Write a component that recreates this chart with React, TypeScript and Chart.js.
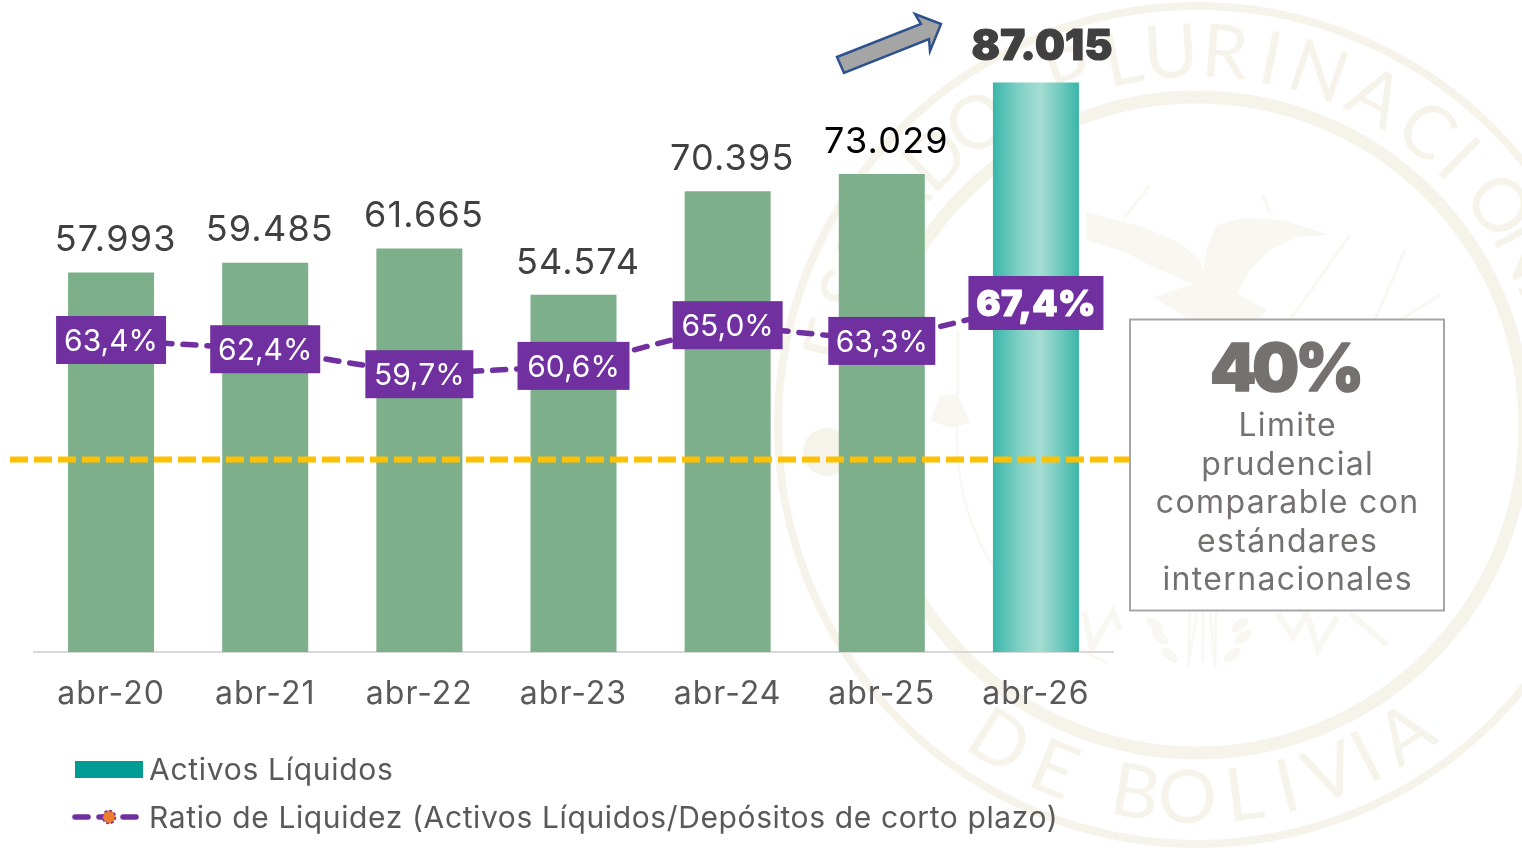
import React, { useEffect, useRef } from "react";
import { Chart, registerables } from "chart.js";

Chart.register(...registerables);

const categories = ["abr-20", "abr-21", "abr-22", "abr-23", "abr-24", "abr-25", "abr-26"];
const activosLiquidos = [57993, 59485, 61665, 54574, 70395, 73029, 87015];
const ratioLiquidez = [63.4, 62.4, 59.7, 60.6, 65.0, 63.3, 67.4];
const pillWidths = [110, 110, 108, 112, 110, 107, 135];
const limitePrudencial = "40%";
const limiteTexto = ["Limite", "prudencial", "comparable con", "estándares", "internacionales"];
const serieBarras = "Activos Líquidos";
const serieLinea = "Ratio de Liquidez (Activos Líquidos/Depósitos de corto plazo)";
const limiteLineaNivel = 29400;

const FONT = "Inter, 'Open Sans', sans-serif";
const GREY = "#595959";
const PURPLE = "#7030A0";
const SEAL = "#f6f3ea";
const SEAL_SOFT = "#f9f7f1";

const fmtMiles = (v: number) => String(v).replace(/\B(?=(\d{3})+$)/g, ".");
const fmtPct = (v: number) => v.toFixed(1).replace(".", ",") + "%";

function text(c: any, s: string, x: number, y: number, font: string, color: string, spacing = 0, heavy = 0) {
  c.save();
  c.font = font;
  c.fillStyle = color;
  c.textAlign = "center";
  c.textBaseline = "middle";
  c.letterSpacing = spacing + "px";
  if (heavy) {
    c.strokeStyle = color;
    c.lineWidth = heavy;
    c.lineJoin = "round";
    c.strokeText(s, x + spacing / 2, y);
  }
  c.fillText(s, x + spacing / 2, y);
  c.restore();
}

function textLeft(c: any, s: string, x: number, y: number, font: string, color: string, spacing = 0) {
  c.save();
  c.font = font;
  c.fillStyle = color;
  c.textAlign = "left";
  c.textBaseline = "middle";
  c.letterSpacing = spacing + "px";
  c.fillText(s, x, y);
  c.restore();
}

function poly(c: any, pts: number[][]) {
  c.beginPath();
  pts.forEach((p, i) => (i ? c.lineTo(p[0], p[1]) : c.moveTo(p[0], p[1])));
  c.closePath();
}

function polyline(c: any, pts: number[][]) {
  c.beginPath();
  pts.forEach((p, i) => (i ? c.lineTo(p[0], p[1]) : c.moveTo(p[0], p[1])));
  c.stroke();
}

function drawSeal(c: any) {
  const cx = 1197, cy = 425;
  c.save();
  c.strokeStyle = SEAL;
  c.lineWidth = 8;
  c.beginPath();
  c.arc(cx, cy, 419, 0, Math.PI * 2);
  c.stroke();
  c.lineWidth = 13;
  c.beginPath();
  c.arc(cx, cy, 328, 0, Math.PI * 2);
  c.stroke();
  const letter = (ch: string, deg: number, bottom: boolean) => {
    const a = (deg * Math.PI) / 180;
    c.save();
    if (bottom) {
      c.translate(cx + Math.sin(a) * 374, cy + Math.cos(a) * 374);
      c.rotate(-a);
    } else {
      c.translate(cx + Math.sin(a) * 372, cy - Math.cos(a) * 372);
      c.rotate(a);
    }
    c.font = "400 74px Lato, sans-serif";
    c.fillStyle = SEAL;
    c.textAlign = "center";
    c.textBaseline = "middle";
    c.fillText(ch, 0, 0);
    c.restore();
  };
  const top: [string, number][] = [["E", -77], ["S", -69], ["T", -61], ["A", -53], ["D", -44.5], ["O", -36], ["P", -20], ["L", -11.5], ["U", -4], ["R", 4.3], ["I", 11.4], ["N", 19], ["A", 28.6], ["C", 38], ["I", 44.5], ["O", 54], ["N", 62], ["A", 71], ["L", 79]];
  top.forEach(([ch, d]) => letter(ch, d, false));
  const bot: [string, number][] = [["D", -32], ["E", -22.5], ["B", -9.5], ["O", -1.5], ["L", 7.3], ["I", 14], ["V", 21], ["I", 27], ["A", 34]];
  bot.forEach(([ch, d]) => letter(ch, d, true));

  // escudo: sol, cóndor y armas
  c.fillStyle = SEAL;
  c.beginPath();
  c.arc(827, 452, 24, 0, Math.PI * 2);
  c.fill();
  c.fillStyle = SEAL_SOFT;
  c.strokeStyle = SEAL_SOFT;
  poly(c, [[1207, 247], [1217, 225], [1243, 218], [1283, 220], [1330, 235], [1297, 237], [1270, 250], [1250, 270], [1237, 293], [1267, 310], [1257, 320], [1190, 320], [1153, 297], [1190, 285], [1203, 270]]);
  c.fill();
  poly(c, [[1086, 212], [1143, 227], [1180, 243], [1200, 260], [1203, 270], [1190, 283], [1153, 267], [1127, 253], [1086, 240]]);
  c.fill();
  poly(c, [[940, 395], [958, 395], [970, 423], [950, 428], [930, 420]]);
  c.fill();
  c.lineWidth = 3;
  [[1150, 185, 1124, 218], [1350, 235, 1290, 320], [1405, 250, 1375, 320], [1440, 295, 1400, 320], [1262, 195, 1270, 212], [958, 330, 958, 395]].forEach((l) => polyline(c, [[l[0], l[1]], [l[2], l[3]]]));
  // círculo interior tenue
  c.lineWidth = 2;
  c.beginPath();
  c.arc(1197, 440, 240, Math.PI * 0.62, Math.PI * 1.05);
  c.stroke();
  // banderas y laureles inferiores
  c.lineWidth = 6;
  polyline(c, [[1084, 612], [1092, 648], [1113, 612], [1120, 630]]);
  polyline(c, [[1277, 613], [1293, 637], [1307, 613], [1318, 650], [1337, 617]]);
  polyline(c, [[1350, 613], [1387, 645]]);
  c.lineWidth = 2.5;
  [[1190, 612, 1188, 668], [1203, 612, 1203, 662], [1216, 612, 1215, 668], [1197, 612, 1188, 668], [1210, 612, 1215, 668]].forEach((l) => polyline(c, [[l[0], l[1]], [l[2], l[3]]]));
  [[1155, 625], [1160, 637], [1170, 655], [1240, 625], [1243, 637], [1232, 655]].forEach((p) => {
    c.beginPath();
    c.ellipse(p[0], p[1], 10, 5, p[0] < 1200 ? 0.7 : -0.7, 0, Math.PI * 2);
    c.fill();
  });
  c.restore();
}

const overlay = {
  id: "overlay",
  beforeDraw(chart: any) {
    const c = chart.ctx;
    c.save();
    c.fillStyle = "#ffffff";
    c.fillRect(0, 0, chart.width, chart.height);
    drawSeal(c);
    c.restore();
    c.letterSpacing = "1px";
  },
  afterDraw(chart: any) {
    const c = chart.ctx;
    c.letterSpacing = "0px";
    const { x, y, y1 } = chart.scales;
    const area = chart.chartArea;

    // línea de límite
    c.save();
    c.strokeStyle = "#FFC000";
    c.lineWidth = 6;
    c.setLineDash([18, 6]);
    c.beginPath();
    const ly = y.getPixelForValue(limiteLineaNivel);
    c.moveTo(area.left - 24, ly);
    c.lineTo(1130, ly);
    c.stroke();
    c.restore();

    // caja del límite
    c.save();
    c.fillStyle = "#ffffff";
    c.strokeStyle = "#A6A6A6";
    c.lineWidth = 2;
    c.fillRect(1130, 319.5, 314, 291);
    c.strokeRect(1130, 319.5, 314, 291);
    c.restore();
    text(c, limitePrudencial, 1287, 371, "900 66px " + FONT, "#767171", -4, 1.5);
    limiteTexto.forEach((t, i) => {
      text(c, t, 1287, 426.5 + i * 38.5, "400 32px " + FONT, "#767171", 1.35);
    });

    // etiquetas de barras
    activosLiquidos.forEach((v, i) => {
      const px = x.getPixelForValue(i);
      const top = y.getPixelForValue(v);
      if (i === activosLiquidos.length - 1) {
        text(c, fmtMiles(v), px + 6, top - 35, "900 42px " + FONT, "#404040", 0.3, 1.2);
      } else {
        text(c, fmtMiles(v), px + 4, top - 32, "400 36px " + FONT, i === 5 ? "#000000" : "#404040", 1.2);
      }
    });

    // etiquetas de la razón
    ratioLiquidez.forEach((v, i) => {
      const px = x.getPixelForValue(i);
      const py = y1.getPixelForValue(v);
      const last = i === ratioLiquidez.length - 1;
      const w = pillWidths[i];
      const h = last ? 54 : 48;
      c.fillStyle = PURPLE;
      c.fillRect(px - w / 2, py - h / 2, w, h);
      if (last) text(c, fmtPct(v), px, py + 2, "900 36px " + FONT, "#ffffff", 0.5, 1);
      else text(c, fmtPct(v), px, py + 2, "400 30px " + FONT, "#ffffff");
    });

    // flecha
    c.save();
    c.fillStyle = "#A5A5A5";
    c.strokeStyle = "#2F528F";
    c.lineWidth = 2.5;
    c.lineJoin = "miter";
    poly(c, [[837, 57], [921, 24], [915, 14], [941, 24], [930, 51], [929, 39], [844, 73]]);
    c.fill();
    c.stroke();
    c.restore();

    // leyenda
    c.fillStyle = "#009B92";
    c.fillRect(75, 761, 68, 17);
    textLeft(c, serieBarras, 149, 770.5, "400 30px " + FONT, GREY, 0.7);
    c.save();
    c.strokeStyle = PURPLE;
    c.lineWidth = 5.5;
    c.lineCap = "round";
    [[75, 88], [99, 103], [123, 136]].forEach((s) => {
      c.beginPath();
      c.moveTo(s[0], 817);
      c.lineTo(s[1], 817);
      c.stroke();
    });
    c.fillStyle = "#ED7D31";
    c.lineWidth = 1.5;
    c.setLineDash([3, 2]);
    c.lineCap = "butt";
    c.beginPath();
    c.arc(109, 817, 6.5, 0, Math.PI * 2);
    c.fill();
    c.stroke();
    c.restore();
    textLeft(c, serieLinea, 149, 818.5, "400 30px " + FONT, GREY, 0.62);
  },
};

export default function App() {
  const ref = useRef<HTMLCanvasElement>(null);
  useEffect(() => {
    const chart = new Chart(ref.current!, {
      type: "bar",
      plugins: [overlay],
      data: {
        labels: categories,
        datasets: [
          {
            type: "line",
            label: serieLinea,
            data: ratioLiquidez,
            yAxisID: "y1",
            order: 0,
            borderColor: PURPLE,
            borderWidth: 5.5,
            borderDash: [13, 11],
            borderCapStyle: "round",
            pointRadius: 0,
            tension: 0,
            fill: false,
          },
          {
            type: "bar",
            label: serieBarras,
            data: activosLiquidos,
            yAxisID: "y",
            order: 1,
            barPercentage: 0.558,
            categoryPercentage: 1,
            backgroundColor: (ctx: any) => {
              if (ctx.dataIndex !== activosLiquidos.length - 1) return "#7DAF8B";
              const sx = ctx.chart.scales.x;
              if (!sx) return "#3CB7AC";
              const cx = sx.getPixelForValue(ctx.dataIndex);
              const g = ctx.chart.ctx.createLinearGradient(cx - 43, 0, cx + 43, 0);
              g.addColorStop(0, "#3AB6AA");
              g.addColorStop(0.3, "#7FD0C5");
              g.addColorStop(0.55, "#A6DDD3");
              g.addColorStop(0.75, "#78CDC2");
              g.addColorStop(1, "#3AB5A9");
              return g;
            },
          },
        ],
      } as any,
      options: {
        responsive: false,
        animation: false,
        layout: { padding: { left: 34, right: 409, top: 30, bottom: 140 } },
        plugins: { legend: { display: false }, tooltip: { enabled: false } },
        scales: {
          x: {
            afterFit: (s: any) => {
              s.height = 60;
            },
            grid: { display: false, drawTicks: false },
            border: { display: true, color: "#D9D9D9", width: 2 },
            ticks: {
              color: GREY,
              font: { family: FONT, size: 32 },
              padding: 23,
              maxRotation: 0,
            },
          },
          y: { display: false, min: 0, max: 95034 },
          y1: { display: false, min: 29.67, max: 96.91 },
        },
      } as any,
    });
    return () => chart.destroy();
  }, []);
  return (
    <canvas
      ref={ref}
      width={1522}
      height={852}
      style={{ position: "fixed", left: 0, top: 0, width: 1522, height: 852, display: "block" }}
    />
  );
}
